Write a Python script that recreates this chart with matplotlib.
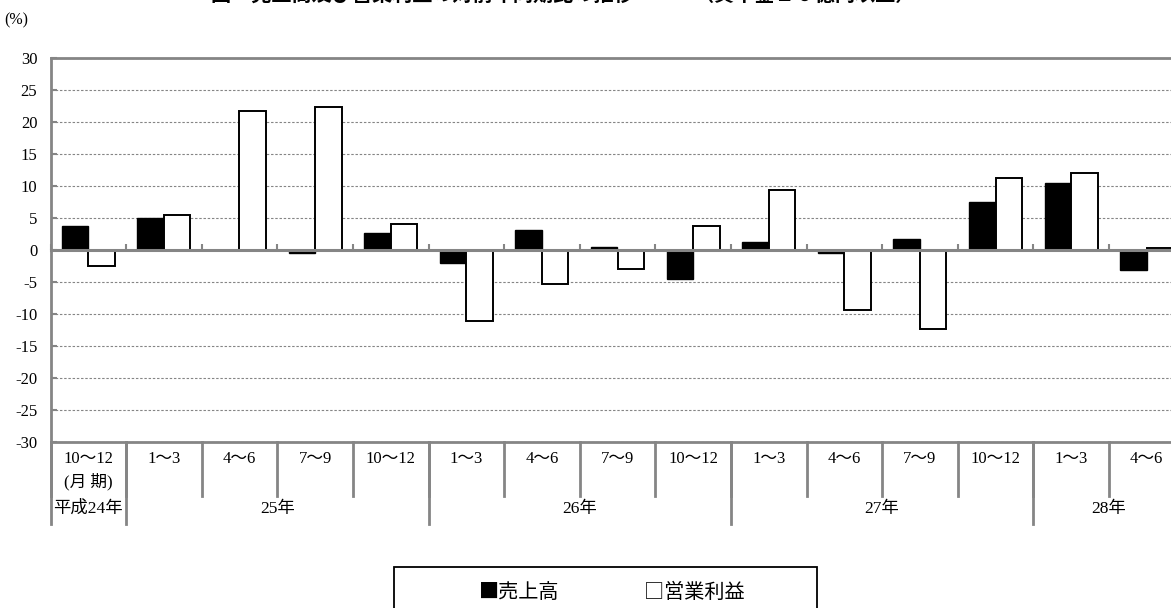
import matplotlib
matplotlib.use("Agg")
import matplotlib.pyplot as plt
import matplotlib.transforms as mtransforms
from matplotlib.patches import Rectangle
import numpy as np

# ---------------- data ----------------
quarters = ["10～12", "1～3", "4～6", "7～9", "10～12", "1～3", "4～6", "7～9",
            "10～12", "1～3", "4～6", "7～9", "10～12", "1～3", "4～6"]
first_sub = "(月 期)"
years = ["平成24年", "25年", "26年", "27年", "28年"]
year_spans = [1, 4, 4, 4, 2]
sales = [3.7, 5.0, 0.0, -0.4, 2.7, -2.0, 3.2, 0.4, -4.6, 1.3, -0.4, 1.7, 7.5, 10.4, -3.2]
profit = [-2.5, 5.5, 21.7, 22.3, 4.1, -11.1, -5.3, -3.0, 3.8, 9.3, -9.3, -12.4, 11.3, 12.1, 0.3]
series_names = ["売上高", "営業利益"]
yticks = list(range(-30, 31, 5))
title = "図　売上高及び営業利益の対前年同期比の推移　　　（資本金１０億円以上）"
unit_label = "(%)"

# ---------------- style ----------------
SERIF = ["Liberation Serif", "Noto Sans CJK JP"]
SANS = ["Noto Sans CJK JP", "DejaVu Sans"]
plt.rcParams["font.family"] = SERIF
plt.rcParams["axes.unicode_minus"] = False
GRAY = "#858585"

W, H = 1171, 608
fig = plt.figure(figsize=(W / 100, H / 100), dpi=100)
ax = fig.add_axes([50.5 / W, 1 - 442 / H, 1134 / W, 384 / H])

n = len(quarters)
x = np.arange(n)
bw = 0.35
ax.bar(x - bw / 2, sales, width=bw, color="black", edgecolor="black", linewidth=1.0, zorder=3)
ax.bar(x + bw / 2, profit, width=bw, color="white", edgecolor="black", linewidth=1.4, zorder=3)

ax.set_xlim(-0.5, n - 0.5)
ax.set_ylim(-30, 30)
ax.set_yticks(yticks)
ax.yaxis.grid(True, linestyle=(0, (2.2, 1.6)), color=GRAY, linewidth=0.8, zorder=1)
ax.set_axisbelow(True)

for s in ["left", "top"]:
    ax.spines[s].set_color(GRAY)
    ax.spines[s].set_linewidth(2)
ax.spines["right"].set_visible(False)
ax.spines["bottom"].set_position(("data", 0))
ax.spines["bottom"].set_color(GRAY)
ax.spines["bottom"].set_linewidth(2.2)
ax.spines["bottom"].set_zorder(5)
ax.axhline(-30, color=GRAY, linewidth=2, clip_on=False, zorder=5)

ax.set_xticks(np.arange(-0.5, n, 1.0))
ax.tick_params(axis="x", direction="in", length=4, width=1.5, color=GRAY, labelbottom=False)
ax.tick_params(axis="y", direction="in", length=4, width=1.5, color=GRAY, labelsize=12, pad=9.5)

# ---------------- category table below ----------------
trans = mtransforms.blended_transform_factory(ax.transData, ax.transAxes)
q_depth = -54 / 384
y_depth = -82 / 384
for b in np.arange(-0.5, n, 1.0):
    ax.plot([b, b], [0, q_depth], transform=trans, color=GRAY, lw=2, clip_on=False)
ybounds = np.concatenate([[0], np.cumsum(year_spans)]) - 0.5
for b in ybounds:
    ax.plot([b, b], [0, y_depth], transform=trans, color=GRAY, lw=2, clip_on=False)

for i, q in enumerate(quarters):
    ax.text(i, -17 / 384, q, transform=trans, ha="center", va="center", fontsize=12)
ax.text(0, -40 / 384, first_sub, transform=trans, ha="center", va="center", fontsize=12)
for k, yl in enumerate(years):
    c = (ybounds[k] + ybounds[k + 1]) / 2
    ax.text(c, -67 / 384, yl, transform=trans, ha="center", va="center", fontsize=12.5)

# ---------------- texts ----------------
fig.text(4 / W, 1 - 20 / H, unit_label, ha="left", va="center", fontsize=11.5)
fig.text(211 / W, 1 - 0.5 / H, title, ha="left", va="baseline", fontsize=14.5,
         family=SANS, weight="bold")

# ---------------- legend ----------------
fig.add_artist(Rectangle((394 / W, -0.1), (817 - 394) / W, 0.1 + (608 - 567) / H,
                         transform=fig.transFigure, fill=False, ec="black", lw=1.3))
fig.text(479 / W, 1 - 592 / H, "■" + series_names[0], ha="left", va="center",
         fontsize=14.5, family=SANS)
fig.text(644 / W, 1 - 592 / H, "□" + series_names[1], ha="left", va="center",
         fontsize=14.5, family=SANS)

fig.savefig("out.png", dpi=100)
